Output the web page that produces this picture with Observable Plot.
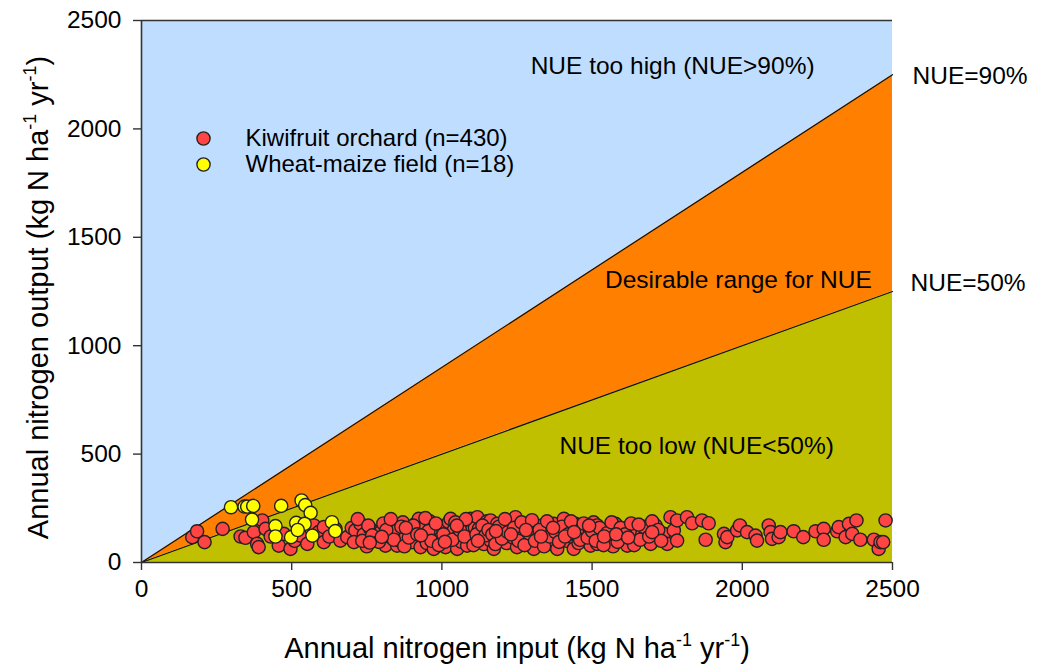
<!DOCTYPE html>
<html>
<head>
<meta charset="utf-8">
<script src="https://cdn.jsdelivr.net/npm/d3@7"></script>
<script src="https://cdn.jsdelivr.net/npm/@observablehq/plot@0.6"></script>
<style>
  html, body { margin: 0; padding: 0; background: #fff; }
  #chart svg { display: block; font-family: "Liberation Sans", Arial, sans-serif; }
</style>
</head>
<body>
<div id="chart"></div>
<script>
// Annual nitrogen input vs output (kg N ha-1 yr-1) per site
const kiwifruit = [
  [169,117],[185,144],[210,94],[270,155],[330,120],[346,114],[374,140],[385,86],[390,71],[402,194],
  [413,155],[430,120],[457,78],[474,132],[496,63],[510,100],[529,124],[552,86],[574,171],[590,140],
  [607,163],[607,94],[625,120],[646,155],[662,101],
  [685,117],[700,160],[712,148],[707,94],[729,178],[740,130],[750,75],[762,155],[774,109],[785,140],
  [796,140],[805,180],[812,78],[825,120],[835,160],[845,132],[851,148],[851,78],[860,100],[870,185],
  [880,120],[895,140],[901,94],[912,178],[923,201],[929,71],[935,155],[940,117],[950,90],[960,190],
  [973,63],[984,140],[995,110],[1000,165],
  [1012,71],[1018,117],[1023,186],[1029,201],[1040,150],[1051,63],[1056,124],[1065,95],[1070,175],[1084,78],
  [1090,140],[1095,201],[1100,110],[1110,160],[1118,209],[1123,155],[1129,117],[1140,85],[1150,190],[1162,194],
  [1162,101],[1173,63],[1184,178],[1195,135],[1206,155],[1215,90],[1225,190],[1234,117],[1245,209],[1250,71],
  [1260,150],[1270,120],[1284,178],[1284,101],[1295,160],
  [1306,63],[1315,130],[1334,171],[1345,109],[1355,150],[1365,85],[1373,178],[1384,63],[1395,140],[1406,201],
  [1415,100],[1425,165],[1434,155],[1434,117],[1439,63],[1445,178],[1455,90],[1467,124],[1480,150],[1495,78],
  [1505,185],[1517,171],[1517,86],[1530,130],[1545,100],[1561,155],[1561,117],[1570,75],[1578,178],[1590,140],
  [1600,117],[1617,78],[1625,160],[1635,100],[1645,101],[1650,148],[1667,132],[1678,132],[1683,155],[1695,86],
  [1706,132],[1711,171],
  [1739,132],[1750,86],[1761,209],[1772,148],[1783,194],[1783,101],[1816,209],[1833,181],[1866,194],[1878,105],
  [1888,181],[1939,132],[1944,94],[1950,117],[1983,148],[1992,171],[2016,140],[2044,124],[2049,101],[2088,171],
  [2094,140],[2099,109],[2121,117],[2127,140],[2171,144],[2203,117],[2244,144],[2271,155],[2271,105],[2316,144],
  [2321,163],[2344,117],[2355,178],[2366,132],[2380,194],[2393,105],[2438,105],[2454,63],[2460,94],[2469,94],
  [2477,194],
  [720,200],[735,100],[755,170],[768,125],[790,95],[815,150],[830,200],[840,105],[865,165],[875,75],
  [890,115],[905,170],[918,130],[945,205],[955,145],[965,100],[980,180],[990,80],[1005,130],[1035,105],
  [1045,185],[1060,150],[1075,120],[1080,200],[1105,80],[1115,130],[1135,170],[1145,125],[1155,150],[1168,130],
  [1178,85],[1190,165],[1200,110],[1210,200],[1220,140],[1240,160],[1255,100],[1265,185],[1275,80],[1290,135],
  [1300,195],[1310,100],[1325,150],[1340,75],[1350,190],[1360,120],[1378,140],[1390,95],[1400,165],[1420,130],
  [1430,190],[1450,140],[1460,105],[1472,180],[1485,115],[1500,145],[1512,100],[1525,160],[1538,80],[1550,135],
  [1565,185],[1585,95],[1595,160],[1610,130],[1630,180],[1640,80],[1660,105],[1672,165],[1690,120],[1700,190],
  [1720,150],[1730,100],
  [760,92],[800,118],[880,160],[930,125],[1010,95],[1050,170],[1120,100],[1180,145],[1230,130],[1280,150],
  [1330,120],[1370,160],[1410,120],[1440,140],[1490,170],[1540,120],[1580,130],[1620,115],[1655,175],[1700,140]
];
const wheatMaize = [
  [298,255],[343,258],[352,258],[372,261],[368,198],[465,261],[533,286],[545,265],[563,229],
  [446,168],[515,183],[543,178],[446,120],[498,117],[520,150],[569,124],[634,186],[645,145]
];

const seriesNames = ["Kiwifruit orchard (n=430)", "Wheat-maize field (n=18)"];
const seriesColors = ["#ff4444", "#ffff00"];

const axisTicks = [0, 500, 1000, 1500, 2000, 2500];
const inputRange = [0, 2500];
const nueLow = 0.5;   // NUE = 50 %
const nueHigh = 0.9;  // NUE = 90 %

const xTitle = "Annual nitrogen input (kg N ha^-1 yr^-1)";
const yTitle = "Annual nitrogen output (kg N ha^-1 yr^-1)";

const ink = "#222";
const dotR = 6.6;

const plot = Plot.plot({
  width: 1038,
  height: 670,
  marginLeft: 141,
  marginRight: 146,
  marginTop: 20,
  marginBottom: 108,
  x: { domain: inputRange },
  y: { domain: inputRange },
  style: { fontFamily: '"Liberation Sans", Arial, sans-serif', color: "#000", background: "#fff" },
  marks: [
    // efficiency zones
    Plot.areaY(inputRange, { x: d => d, y1: d => nueHigh * d, y2: inputRange[1], fill: "#bfdeff" }),
    Plot.areaY(inputRange, { x: d => d, y1: d => nueLow * d, y2: d => nueHigh * d, fill: "#ff8000" }),
    Plot.areaY(inputRange, { x: d => d, y1: 0, y2: d => nueLow * d, fill: "#c0c000" }),
    Plot.line(inputRange, { x: d => d, y: d => nueHigh * d, stroke: "#111", strokeWidth: 1.2 }),
    Plot.line(inputRange, { x: d => d, y: d => nueLow * d, stroke: "#111", strokeWidth: 1.2 }),

    // zone labels
    Plot.text(["NUE too high (NUE>90%)"], { x: 1768, y: 2288, fontSize: 24.5, fill: "#000" }),
    Plot.text(["Desirable range for NUE"], { x: 1987, y: 1301, fontSize: 24.5, fill: "#000" }),
    Plot.text(["NUE too low (NUE<50%)"], { x: 1848, y: 535, fontSize: 24.5, fill: "#000" }),
    Plot.text(["NUE=90%"], { x: inputRange[1], y: nueHigh * inputRange[1], dx: 20, dy: 1, textAnchor: "start", fontSize: 24.5, fill: "#000" }),
    Plot.text(["NUE=50%"], { x: inputRange[1], y: nueLow * inputRange[1], dx: 18, dy: -8, textAnchor: "start", fontSize: 24.5, fill: "#000" }),

    // sites
    Plot.dot(kiwifruit, { x: d => d[0], y: d => d[1], r: dotR, fill: seriesColors[0], stroke: ink, strokeWidth: 1.4 }),
    Plot.dot(wheatMaize, { x: d => d[0], y: d => d[1], r: dotR, fill: seriesColors[1], stroke: ink, strokeWidth: 1.4 }),

    // legend
    ...seriesNames.flatMap((name, i) => [
      Plot.dot([name], { frameAnchor: "top-left", dx: 62, dy: 118 + 26 * i, r: dotR, fill: seriesColors[i], stroke: ink, strokeWidth: 1.4 }),
      Plot.text([name], { frameAnchor: "top-left", dx: 104, dy: 118 + 26 * i, textAnchor: "start", lineAnchor: "middle", fontSize: 24, fill: "#000" })
    ]),

    // frame lines and axes
    Plot.ruleY([inputRange[1]], { stroke: "#333", strokeWidth: 1.6 }),
    Plot.ruleY([0], { stroke: "#333", strokeWidth: 1.6 }),
    Plot.ruleX([0], { stroke: "#333", strokeWidth: 1.6 }),
    Plot.axisX(axisTicks, { tickSize: 8, tickPadding: 9, fontSize: 24.5, label: null, tickFormat: d => String(d), stroke: "#333", strokeWidth: 1.4, fill: "#000" }),
    Plot.axisY(axisTicks, { tickSize: 8, tickPadding: 12, fontSize: 24.5, label: null, tickFormat: d => String(d), stroke: "#333", strokeWidth: 1.4, fill: "#000" }),
    Plot.text([xTitle], { frameAnchor: "bottom", dy: 86, textAnchor: "middle", lineAnchor: "middle", fontSize: 29, fill: "#000" }),
    Plot.text([yTitle], { frameAnchor: "left", dx: -103, dy: 6, rotate: -90, textAnchor: "middle", lineAnchor: "middle", fontSize: 29, fill: "#000" })
  ]
});

// render "^-1" as superscripts in the axis titles
d3.select(plot).selectAll("text").each(function () {
  const t = this.textContent;
  if (!t.includes("^")) return;
  const size = 29;
  const shift = 0.42 * size;
  const parts = t.split(/\^(-?\d+)/);
  const el = d3.select(this);
  el.text(null);
  let raised = false;
  parts.forEach((p, i) => {
    if (!p) return;
    const sp = el.append("tspan");
    if (i % 2) {
      sp.attr("dy", raised ? 0 : -shift).attr("font-size", size * 0.62);
      raised = true;
    } else {
      sp.attr("dy", raised ? shift : 0);
      raised = false;
    }
    sp.text(p);
  });
});

document.getElementById("chart").appendChild(plot);
</script>
</body>
</html>
